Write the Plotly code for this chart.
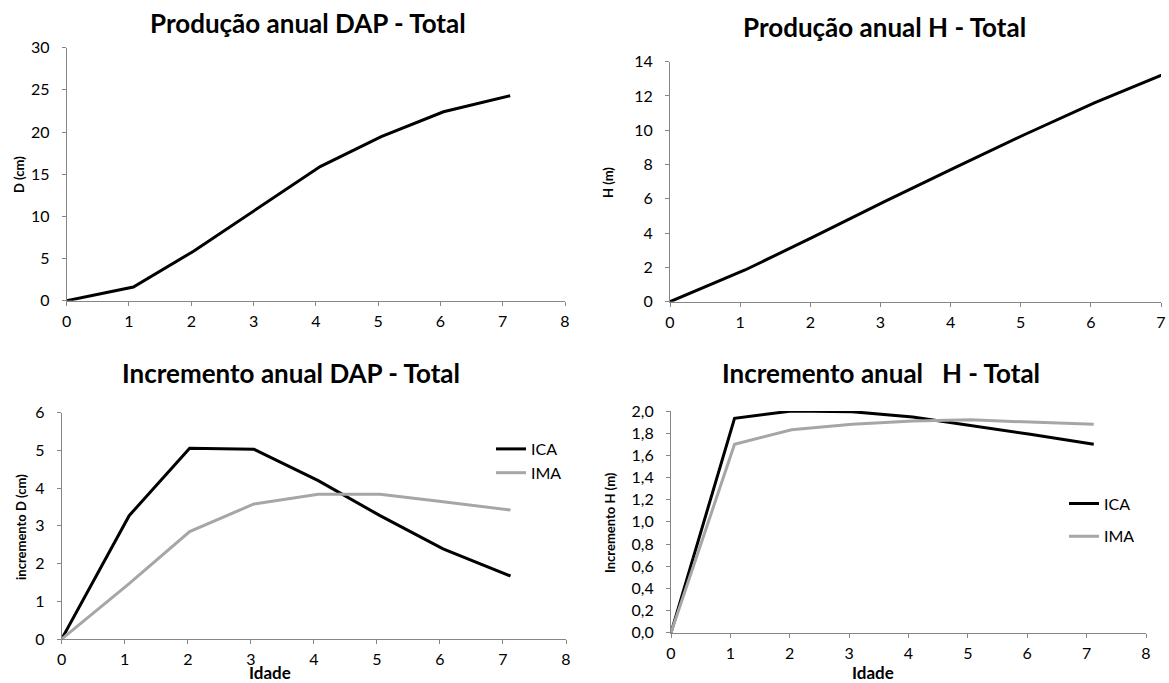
import plotly.graph_objects as go

# ---- data ----
idade = [0, 1.07, 2.03, 3.05, 4.07, 5.05, 6.05, 7.12]
dap_total = [0, 1.62, 5.84, 10.86, 15.9, 19.46, 22.4, 24.3]
h_total = [0, 1.85, 3.75, 5.82, 7.83, 9.74, 11.6, 13.4]
ica_dap = [0, 3.27, 5.06, 5.03, 4.2, 3.27, 2.39, 1.67]
ima_dap = [0, 1.47, 2.85, 3.58, 3.84, 3.84, 3.64, 3.42]
ica_h = [0, 1.934, 2.0, 1.994, 1.945, 1.87, 1.79, 1.70]
ima_h = [0, 1.70, 1.83, 1.88, 1.91, 1.92, 1.90, 1.88]

titles = ["Produção anual DAP - Total", "Produção anual H - Total",
          "Incremento anual DAP - Total", "Incremento anual \u00a0 H - Total"]
ylabels = ["D (cm)", "H (m)", "incremento D (cm)", "Incremento H (m)"]
xlabel = "Idade"

W, H = 1169, 683
FONT = "Lato, 'Open Sans', sans-serif"
BLACK = "#000000"
GRAY = "#A6A6A6"
AXC = "#868686"


def fx(px):
    return px / W


def fy(py):
    return 1 - py / H


fig = go.Figure()

fig.add_trace(go.Scatter(x=idade, y=dap_total, mode="lines", line=dict(color=BLACK, width=3),
                         xaxis="x", yaxis="y", showlegend=False))
fig.add_trace(go.Scatter(x=idade, y=h_total, mode="lines", line=dict(color=BLACK, width=3),
                         xaxis="x2", yaxis="y2", showlegend=False))
fig.add_trace(go.Scatter(x=idade, y=ica_dap, mode="lines", name="ICA", line=dict(color=BLACK, width=3),
                         xaxis="x3", yaxis="y3", legend="legend", legendgroup="a"))
fig.add_trace(go.Scatter(x=idade, y=ima_dap, mode="lines", name="IMA", line=dict(color=GRAY, width=3),
                         xaxis="x3", yaxis="y3", legend="legend", legendgroup="b"))
fig.add_trace(go.Scatter(x=idade, y=ica_h, mode="lines", name="ICA", line=dict(color=BLACK, width=3),
                         xaxis="x4", yaxis="y4", legend="legend2", legendgroup="c"))
fig.add_trace(go.Scatter(x=idade, y=ima_h, mode="lines", name="IMA", line=dict(color=GRAY, width=3),
                         xaxis="x4", yaxis="y4", legend="legend2", legendgroup="d"))

axis_common = dict(showgrid=False, zeroline=False, showline=True, linecolor=AXC, linewidth=1,
                   ticks="outside", ticklen=4, tickcolor=AXC, tickwidth=1,
                   tickfont=dict(family=FONT, size=16, color="#000"), fixedrange=True,
                   ticklabeloverflow="allow", automargin=False)

# panel geometry in pixels: (x0, x1, ytop, ybottom)
panels = [(66.7, 565, 47.7, 300.7), (670, 1161, 61.7, 301.7),
          (61.7, 566, 412.7, 639), (671, 1146, 411, 632.7)]
xranges = [[0, 8], [0, 7], [0, 8], [0, 8]]
yranges = [[0, 30], [0, 14], [0, 6], [0, 2]]
ydticks = [5, 2, 1, 0.2]

layout = dict(width=W, height=H, margin=dict(l=0, r=0, t=0, b=0, pad=0, autoexpand=False),
              paper_bgcolor="white", plot_bgcolor="white", separators=",.",
              font=dict(family=FONT, color="#000"))
for i, (x0, x1, yt, yb) in enumerate(panels):
    sfx = "" if i == 0 else str(i + 1)
    xa = dict(axis_common, domain=[fx(x0), fx(x1)], range=xranges[i], dtick=1,
              anchor="y" + sfx, ticklabelstandoff=2)
    ya = dict(axis_common, domain=[fy(yb), fy(yt)], range=yranges[i], dtick=ydticks[i],
              anchor="x" + sfx, ticklabelstandoff=9)
    if i == 3:
        ya["tickformat"] = ".1f"
    layout["xaxis" + sfx] = xa
    layout["yaxis" + sfx] = ya

fig.update_layout(**layout)

fig.update_layout(
    legend=dict(x=fx(491), y=fy(432), xanchor="left", yanchor="top", bgcolor="rgba(0,0,0,0)",
                font=dict(family=FONT, size=16), itemwidth=30, tracegroupgap=0),
    legend2=dict(x=fx(1064), y=fy(486.5), xanchor="left", yanchor="top", bgcolor="rgba(0,0,0,0)",
                 font=dict(family=FONT, size=16), itemwidth=30, tracegroupgap=9),
)

anns = []
title_pos = [(308, 23), (884, 27), (291, 373), (881, 373)]
for t, (px, py) in zip(titles, title_pos):
    anns.append(dict(text="<b>" + t + "</b>", x=fx(px), y=fy(py), xref="paper", yref="paper",
                     showarrow=False, xanchor="center", yanchor="middle",
                     font=dict(family=FONT, size=26, color="#000")))
ylab_pos = [(19, 175), (608, 183), (21, 527), (610, 523)]
for t, (px, py) in zip(ylabels, ylab_pos):
    anns.append(dict(text="<b>" + t + "</b>", x=fx(px), y=fy(py), xref="paper", yref="paper",
                     showarrow=False, xanchor="center", yanchor="middle", textangle=-90,
                     font=dict(family=FONT, size=13, color="#000")))
for px in (270, 873):
    anns.append(dict(text="<b>" + xlabel + "</b>", x=fx(px), y=fy(672), xref="paper", yref="paper",
                     showarrow=False, xanchor="center", yanchor="middle",
                     font=dict(family=FONT, size=17, color="#000")))
fig.update_layout(annotations=anns)

fig.write_html("out.html", config={"displayModeBar": False},
               post_script="document.body.style.margin='0';document.body.style.overflow='hidden';")
